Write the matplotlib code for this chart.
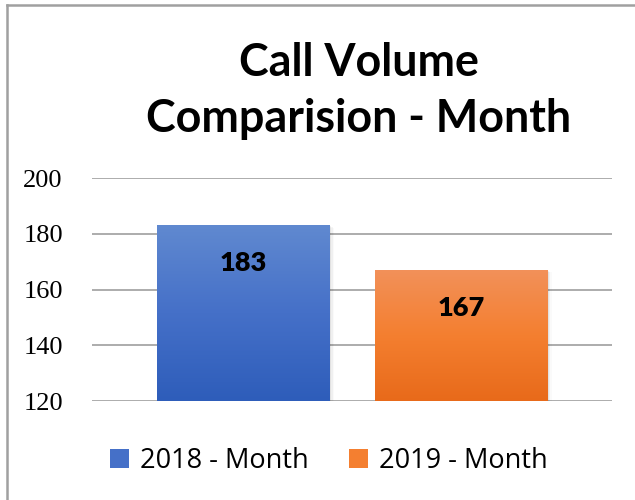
import numpy as np
import matplotlib
matplotlib.use("Agg")
import matplotlib.pyplot as plt
from matplotlib.patches import Rectangle
from matplotlib.colors import LinearSegmentedColormap
from matplotlib.lines import Line2D

# data
series = ["2018 - Month", "2019 - Month"]
values = [183, 167]
title = "Call Volume\nComparision - Month"
yticks = [120, 140, 160, 180, 200]
top_colors = ["#6089D0", "#F2915A"]
bottom_colors = ["#2E5DBA", "#E86A1A"]
mid_colors = ["#4570C8", "#F47F30"]

fig = plt.figure(figsize=(6.35, 5.0), dpi=100)
fig.patch.set_facecolor("white")

# chart border (left and top only visible)
fig.add_artist(Line2D([7/635, 7/635], [0, 1 - 5/500], color="#A0A0A0", lw=1.8, transform=fig.transFigure))
fig.add_artist(Line2D([7/635, 1], [1 - 5/500, 1 - 5/500], color="#A0A0A0", lw=1.8, transform=fig.transFigure))

ax = fig.add_axes([92/635, 1 - 401/500, 520/635, (401 - 178)/500])
xpos = np.arange(len(values))
width = 0.794

ax.set_yticks(yticks)
ax.set_yticklabels([str(t) for t in yticks], fontfamily="Liberation Serif", fontsize=19)
ax.tick_params(axis="y", length=0, pad=21)
ax.set_xticks([])
for s in ax.spines.values():
    s.set_visible(False)
ax.grid(axis="y", color="#A6A6A6", lw=1.3)
ax.set_axisbelow(True)

for i, (x, v) in enumerate(zip(xpos, values)):
    # soft shadow
    for k, a in enumerate([0.06, 0.04, 0.02]):
        sh = Rectangle((x - width/2 + 0.006*(k+1), 120), width, v - 120 - 0.3*(k+1),
                       facecolor="black", alpha=a, edgecolor="none", zorder=2)
        ax.add_patch(sh)
    rect = Rectangle((x - width/2, 120), width, v - 120, facecolor="none", edgecolor="none", zorder=3)
    ax.add_patch(rect)
    cmap = LinearSegmentedColormap.from_list("g%d" % i, [bottom_colors[i], mid_colors[i], top_colors[i]])
    grad = np.linspace(0, 1, 256).reshape(-1, 1)
    im = ax.imshow(grad, cmap=cmap, origin="lower", aspect="auto",
                   extent=[x - width/2, x + width/2, 120, v], zorder=3)
    im.set_clip_path(rect)
    ax.text(x, v - 13.5, str(v), ha="center", va="center", fontsize=19.5,
            fontweight="heavy", fontfamily="Lato", color="black", zorder=4)

ax.set_xlim(-0.695, 1.692)
ax.set_ylim(120, 200)

fig.text(359/635, 1 - 91/500, title, ha="center", va="center", fontsize=32.3,
         fontweight="bold", fontfamily="Lato", linespacing=1.42)

handles = [Rectangle((0, 0), 1, 1, facecolor=c) for c in mid_colors]
leg = fig.legend(handles, series, loc="center", bbox_to_anchor=(329/635, 1 - 461/500),
                 ncol=2, frameon=False, prop={"family": "Open Sans", "size": 19.5},
                 handlelength=0.7, handleheight=0.7, handletextpad=0.4, columnspacing=1.5)

fig.savefig("out.png", dpi=100, facecolor="white")
